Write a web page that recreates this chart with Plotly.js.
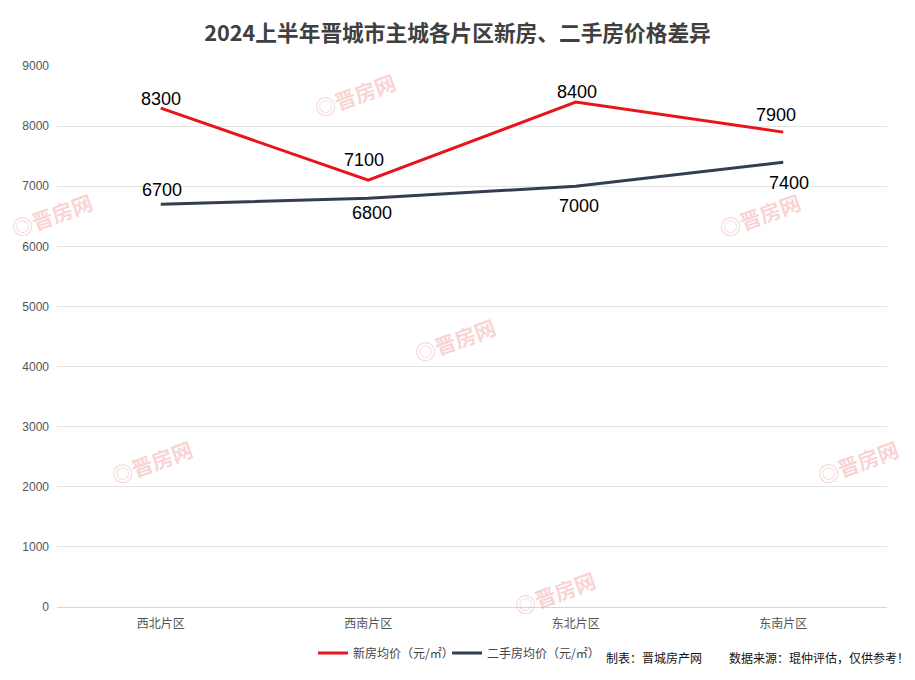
<!DOCTYPE html>
<html><head><meta charset="utf-8">
<script src="https://cdn.plot.ly/plotly-3.0.1.min.js"></script>
<style>body{margin:0;background:#fff}#c{width:915px;height:680px}</style>
</head><body><div id="c"></div>
<script>
const categories = ['西北片区','西南片区','东北片区','东南片区'];
const newPrice = [8300, 7100, 8400, 7900];
const usedPrice = [6700, 6800, 7000, 7400];
const seriesNames = ['新房均价（元/㎡）','二手房均价（元/㎡）'];
const yTicks = [0,1000,2000,3000,4000,5000,6000,7000,8000,9000];

// label offsets (style only)
const newShift = [[0,9],[-4,20],[1,10],[-7,17]];
const usedShift = [[1,14],[4,-15],[3,-20],[6,-21]];

const traces = [
  {x: categories, y: newPrice, name: seriesNames[0], type:'scatter', mode:'lines',
   line:{color:'#e8141c', width:3}, legend:'legend'},
  {x: categories, y: usedPrice, name: seriesNames[1], type:'scatter', mode:'lines',
   line:{color:'#333f50', width:3}, legend:'legend2'}
];

const annotations = [];
const lblFont = {family:'Liberation Sans, Arial', size:18, color:'#000'};
categories.forEach((c,i) => {
  annotations.push({x:c, y:newPrice[i], xref:'x', yref:'y', text:String(newPrice[i]), showarrow:false,
    xanchor:'center', yanchor:'middle', xshift:newShift[i][0], yshift:newShift[i][1], font:lblFont});
  annotations.push({x:c, y:usedPrice[i], xref:'x', yref:'y', text:String(usedPrice[i]), showarrow:false,
    xanchor:'center', yanchor:'middle', xshift:usedShift[i][0], yshift:usedShift[i][1], font:lblFont});
});

const wm = [[355,95],[52,215],[455,340],[760,215],[152,462],[858,462],[555,593]];
wm.forEach(p => annotations.push({
  xref:'paper', yref:'paper', x:(p[0]-57)/830, y:(607-p[1])/541, xanchor:'center', yanchor:'middle',
  text:'<b>◎晋房网</b>', showarrow:false, textangle:-20,
  font:{family:'Noto Sans CJK SC', size:21, color:'rgba(236,130,130,0.35)'}
}));
annotations.push({xref:'paper', yref:'paper', x:(604-57)/830, y:(607-657)/541, xanchor:'left', yanchor:'middle',
  text:'制表：晋城房产网', showarrow:false, font:{family:'Noto Sans CJK SC', size:12, color:'#111'}});
annotations.push({xref:'paper', yref:'paper', x:(727-57)/830, y:(607-657)/541, xanchor:'left', yanchor:'middle',
  text:'数据来源：琨仲评估，仅供参考！', showarrow:false, font:{family:'Noto Sans CJK SC', size:12, color:'#111'}});

const legFont = {family:'Noto Sans CJK SC', size:12, color:'#444'};
const layout = {
  width:915, height:680,
  margin:{l:57, r:28, t:66, b:73},
  paper_bgcolor:'#fff', plot_bgcolor:'#fff',
  title:{text:'<b>2024上半年晋城市主城各片区新房、二手房价格差异</b>', x:0.5, xanchor:'center', y:0.951, yanchor:'middle',
    font:{family:'Noto Sans CJK SC', size:21.7, color:'#404040'}},
  xaxis:{type:'category', range:[-0.5,3.5], showgrid:false, zeroline:false, showline:false, ticks:'',
    ticklabelstandoff:8,
    tickfont:{family:'Noto Sans CJK SC', size:12, color:'#555'}},
  yaxis:{range:[0,9000], tickvals:yTicks, showgrid:true, gridcolor:'#e3e3e3', gridwidth:1,
    zeroline:true, zerolinecolor:'#d6d6d6', zerolinewidth:1, showline:false, ticks:'', ticklen:0,
    ticklabelstandoff:7,
    tickfont:{family:'Liberation Sans, Arial', size:12, color:'#555'}},
  showlegend:true,
  legend:{orientation:'h', x:(313-57)/830, xanchor:'left', y:(607-653)/541, yanchor:'middle',
    font:legFont, itemwidth:30, bgcolor:'rgba(0,0,0,0)'},
  legend2:{orientation:'h', x:(447-57)/830, xanchor:'left', y:(607-653)/541, yanchor:'middle',
    font:legFont, itemwidth:30, bgcolor:'rgba(0,0,0,0)'},
  annotations: annotations
};
Plotly.newPlot('c', traces, layout, {displayModeBar:false, staticPlot:true});
</script></body></html>
